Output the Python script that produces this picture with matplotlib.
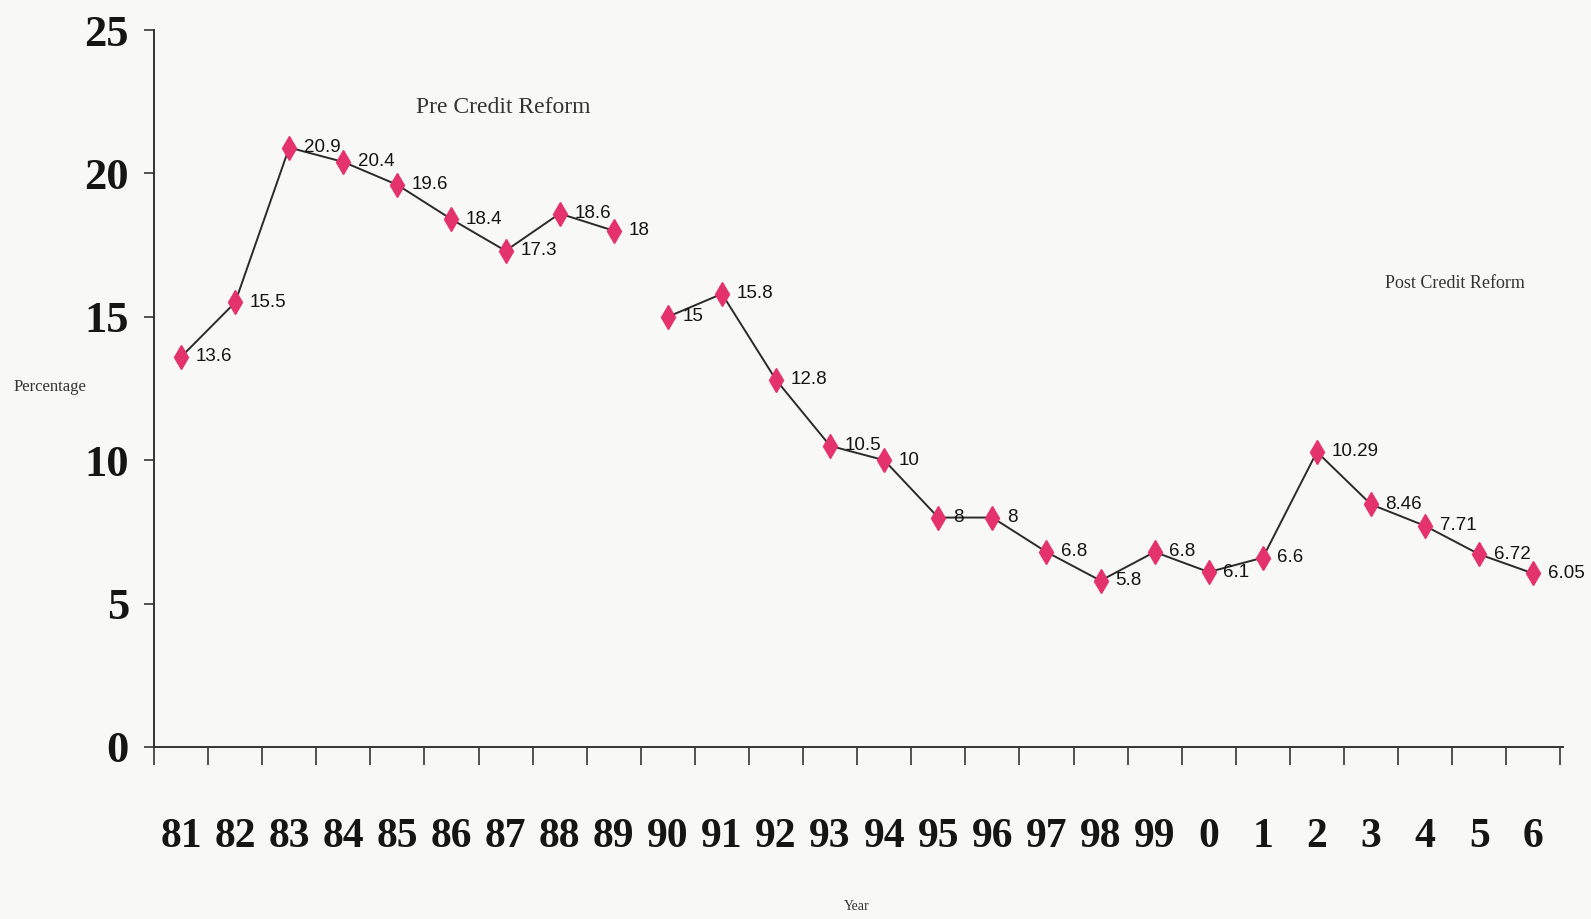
import matplotlib
matplotlib.use("Agg")
import matplotlib.pyplot as plt
from matplotlib import font_manager
import numpy as np

# ---- data ----
years = ["81", "82", "83", "84", "85", "86", "87", "88", "89", "90", "91", "92", "93",
         "94", "95", "96", "97", "98", "99", "0", "1", "2", "3", "4", "5", "6"]
rates = [13.6, 15.5, 20.9, 20.4, 19.6, 18.4, 17.3, 18.6, 18.0, 15.0, 15.8, 12.8, 10.5,
         10.0, 8.0, 8.0, 6.8, 5.8, 6.8, 6.1, 6.6, 10.29, 8.46, 7.71, 6.72, 6.05]
pre_count = 9  # 81..89 form the pre-reform segment
y_ticks = [0, 5, 10, 15, 20, 25]

names = {f.name for f in font_manager.fontManager.ttflist}
serif = "Liberation Serif"
label_font = "Liberation Sans"

bg = "#f8f8f6"
fig = plt.figure(figsize=(15.91, 9.19), dpi=100, facecolor=bg)
ax = fig.add_axes([154 / 1591, 1 - 747 / 919, (1563 - 154) / 1591, (747 - 30) / 919])
ax.set_facecolor(bg)

x = np.arange(len(years))
segments = [(0, pre_count), (pre_count, len(years))]
for a, b in segments:
    ax.plot(x[a:b], rates[a:b], color="#2a2a2a", lw=1.4, zorder=2)
    ax.plot(x[a:b], rates[a:b], ls="none", marker="d", ms=12, mfc="#e4326c",
            mec="#e4326c", zorder=3)

for xi, v in zip(x, rates):
    ax.text(xi + 0.27, v, f"{v:g}", fontsize=13.5, family=label_font,
            color="#141414", ha="left", va="center", zorder=4)

ax.set_xlim(-0.5, 25.55)
ax.set_ylim(0, 25)

# x: boundary ticks (major) and centred labels (minor)
ax.set_xticks(np.arange(-0.5, len(years), 1.0))
ax.set_xticklabels([])
ax.set_xticks(x, minor=True)
ax.set_xticklabels(years, minor=True, fontsize=30, family=serif, fontweight="bold",
                   color="#151515")
ax.tick_params(axis="x", which="major", direction="out", length=13, width=1.3,
               color="#444444")
ax.tick_params(axis="x", which="minor", length=0, pad=51)

ax.set_yticks(y_ticks)
ax.set_yticklabels([str(t) for t in y_ticks], fontsize=32, family=serif,
                   fontweight="bold", color="#151515")
ax.tick_params(axis="y", direction="out", length=7, width=1.3, color="#444444", pad=11)

for s in ["top", "right"]:
    ax.spines[s].set_visible(False)
for s in ["left", "bottom"]:
    ax.spines[s].set_color("#333333")
    ax.spines[s].set_linewidth(1.4)
ax.spines["left"].set_bounds(0, 25)

ax.text(5.95, 22.3, "Pre Credit Reform", fontsize=17, family=serif, color="#333333",
        ha="center", va="center")
ax.text(23.55, 16.15, "Post Credit Reform", fontsize=13, family=serif, color="#333333",
        ha="center", va="center")

fig.text(50 / 1591, 1 - 387 / 919, "Percentage", fontsize=12, family=serif,
         color="#333333", ha="center", va="center")
fig.text(857 / 1591, 1 - 906 / 919, "Year", fontsize=10, family=serif,
         color="#333333", ha="center", va="center")

fig.savefig("out.png", dpi=100, facecolor=bg)
